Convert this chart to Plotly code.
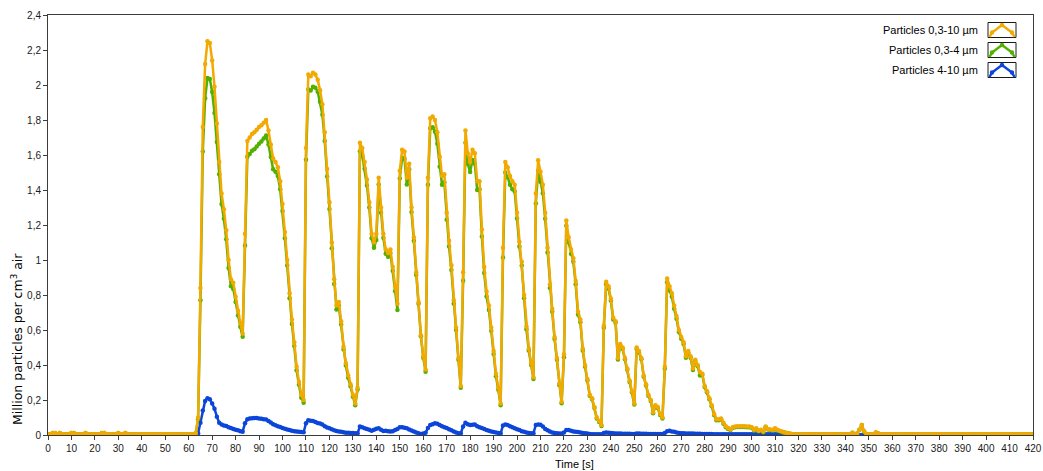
import plotly.graph_objects as go

# ---------------- data (1 s sampling) ----------------
time_s = list(range(0, 421))

particles_03_10 = [
    0.005, 0.005, 0.012, 0.012, 0.005, 0.012, 0.005, 0.005, 0.005, 0.005,
    0.012, 0.012, 0.005, 0.005, 0.005, 0.005, 0.012, 0.005, 0.005, 0.005,
    0.005, 0.005, 0.005, 0.012, 0.012, 0.005, 0.005, 0.005, 0.005, 0.005,
    0.012, 0.005, 0.005, 0.012, 0.005, 0.005, 0.005, 0.005, 0.005, 0.005,
    0.005, 0.005, 0.005, 0.005, 0.005, 0.005, 0.005, 0.005, 0.005, 0.005,
    0.005, 0.005, 0.005, 0.005, 0.005, 0.005, 0.005, 0.005, 0.005, 0.005,
    0.005, 0.005, 0.005, 0.01, 0.10, 0.84, 1.76, 2.12, 2.25, 2.24,
    2.14, 1.99, 1.78, 1.56, 1.38, 1.29, 1.17, 1.00, 0.89, 0.87,
    0.79, 0.71, 0.64, 0.58, 1.15, 1.68, 1.70, 1.72, 1.73, 1.745,
    1.76, 1.77, 1.785, 1.80, 1.74, 1.66, 1.58, 1.56, 1.53, 1.45,
    1.32, 1.16, 1.00, 0.81, 0.66, 0.53, 0.39, 0.305, 0.23, 0.20,
    1.64, 2.06, 2.05, 2.07, 2.06, 2.03, 1.97, 1.89, 1.73, 1.52,
    1.33, 1.10, 0.89, 0.74, 0.76, 0.65, 0.505, 0.41, 0.34, 0.29,
    0.23, 0.18, 0.27, 1.67, 1.64, 1.56, 1.46, 1.33, 1.15, 1.10,
    1.15, 1.47, 1.30, 1.15, 1.06, 1.04, 1.06, 0.96, 0.85, 0.75,
    1.51, 1.63, 1.62, 1.47, 1.55, 1.30, 1.13, 0.93, 0.76, 0.57,
    0.45, 0.375, 1.47, 1.81, 1.82, 1.80, 1.73, 1.59, 1.48, 1.49,
    1.27, 1.11, 0.97, 0.77, 0.615, 0.44, 0.28, 0.93, 1.74, 1.61,
    1.56, 1.63, 1.61, 1.45, 1.45, 1.175, 0.96, 0.82, 0.74, 0.615,
    0.48, 0.35, 0.27, 0.18, 1.07, 1.56, 1.53, 1.48, 1.45, 1.43,
    1.27, 1.105, 0.99, 0.80, 0.62, 0.495, 0.41, 0.33, 1.38, 1.57,
    1.505, 1.43, 1.27, 1.07, 0.86, 0.72, 0.56, 0.44, 0.295, 0.19,
    0.46, 1.225, 1.13, 1.06, 1.01, 0.88, 0.705, 0.66, 0.495, 0.40,
    0.32, 0.23, 0.21, 0.16, 0.10, 0.08, 0.057, 0.625, 0.876, 0.85,
    0.78, 0.67, 0.65, 0.44, 0.52, 0.50, 0.44, 0.38, 0.31, 0.25,
    0.18, 0.50, 0.48, 0.44, 0.34, 0.29, 0.23, 0.20, 0.13, 0.17,
    0.16, 0.12, 0.10, 0.39, 0.895, 0.85, 0.81, 0.74, 0.68, 0.60,
    0.56, 0.53, 0.45, 0.48, 0.45, 0.38, 0.43, 0.40, 0.36, 0.35,
    0.28, 0.25, 0.21, 0.17, 0.12, 0.09, 0.09, 0.095, 0.07, 0.05,
    0.04, 0.032, 0.045, 0.048, 0.05, 0.05, 0.05, 0.05, 0.048, 0.048,
    0.045, 0.03, 0.038, 0.025, 0.03, 0.02, 0.048, 0.035, 0.032, 0.03,
    0.038, 0.03, 0.025, 0.02, 0.015, 0.012, 0.008, 0.006, 0.005, 0.005,
    0.005, 0.005, 0.005, 0.005, 0.005, 0.005, 0.005, 0.005, 0.005, 0.005,
    0.005, 0.005, 0.005, 0.005, 0.005, 0.005, 0.005, 0.005, 0.005, 0.005,
    0.005, 0.005, 0.005, 0.013, 0.005, 0.008, 0.03, 0.057, 0.02, 0.005,
    0.005, 0.005, 0.005, 0.015, 0.008, 0.005, 0.005, 0.005, 0.005, 0.005,
    0.005, 0.005, 0.005, 0.005, 0.005, 0.005, 0.005, 0.005, 0.005, 0.005,
    0.005, 0.005, 0.005, 0.005, 0.005, 0.005, 0.005, 0.005, 0.005, 0.005,
    0.005, 0.005, 0.005, 0.005, 0.005, 0.005, 0.005, 0.005, 0.005, 0.005,
    0.005, 0.005, 0.005, 0.005, 0.005, 0.005, 0.005, 0.005, 0.005, 0.005,
    0.005, 0.005, 0.005, 0.005, 0.005, 0.005, 0.005, 0.005, 0.005, 0.005,
    0.005, 0.005, 0.005, 0.005, 0.005, 0.005, 0.005, 0.005, 0.005, 0.005,
    0.005,
]

particles_03_4 = [
    0.005, 0.005, 0.012, 0.012, 0.005, 0.012, 0.005, 0.005, 0.005, 0.005,
    0.012, 0.012, 0.005, 0.005, 0.005, 0.005, 0.012, 0.005, 0.005, 0.005,
    0.005, 0.005, 0.005, 0.012, 0.012, 0.005, 0.005, 0.005, 0.005, 0.005,
    0.012, 0.005, 0.005, 0.012, 0.005, 0.005, 0.005, 0.005, 0.005, 0.005,
    0.005, 0.005, 0.005, 0.005, 0.005, 0.005, 0.005, 0.005, 0.005, 0.005,
    0.005, 0.005, 0.005, 0.005, 0.005, 0.005, 0.005, 0.005, 0.005, 0.005,
    0.005, 0.005, 0.005, 0.01, 0.09, 0.77, 1.62, 1.925, 2.04, 2.035,
    1.96, 1.84, 1.675, 1.49, 1.32, 1.235, 1.118, 0.955, 0.85, 0.835,
    0.76, 0.683, 0.618, 0.561, 1.083, 1.59, 1.606, 1.624, 1.633, 1.648,
    1.665, 1.677, 1.695, 1.712, 1.66, 1.588, 1.518, 1.504, 1.48, 1.404,
    1.28, 1.124, 0.968, 0.781, 0.635, 0.509, 0.37, 0.287, 0.213, 0.184,
    1.573, 1.975, 1.968, 1.99, 1.985, 1.962, 1.904, 1.83, 1.68, 1.477,
    1.292, 1.067, 0.863, 0.717, 0.74, 0.632, 0.489, 0.397, 0.327, 0.278,
    0.219, 0.17, 0.26, 1.622, 1.595, 1.522, 1.426, 1.30, 1.125, 1.07,
    1.114, 1.432, 1.27, 1.127, 1.036, 1.018, 1.04, 0.938, 0.822, 0.715,
    1.466, 1.585, 1.578, 1.432, 1.518, 1.274, 1.11, 0.915, 0.75, 0.564,
    0.442, 0.362, 1.43, 1.753, 1.758, 1.733, 1.665, 1.533, 1.43, 1.445,
    1.23, 1.077, 0.943, 0.75, 0.60, 0.43, 0.27, 0.882, 1.67, 1.548,
    1.503, 1.572, 1.55, 1.40, 1.405, 1.135, 0.926, 0.791, 0.715, 0.595,
    0.463, 0.336, 0.258, 0.17, 1.015, 1.50, 1.473, 1.43, 1.405, 1.392,
    1.237, 1.077, 0.968, 0.782, 0.605, 0.483, 0.40, 0.32, 1.323, 1.51,
    1.447, 1.382, 1.235, 1.043, 0.84, 0.705, 0.549, 0.43, 0.286, 0.182,
    0.445, 1.196, 1.102, 1.035, 0.99, 0.862, 0.688, 0.645, 0.483, 0.39,
    0.312, 0.224, 0.205, 0.155, 0.095, 0.075, 0.052, 0.613, 0.862, 0.837,
    0.768, 0.66, 0.642, 0.432, 0.512, 0.493, 0.433, 0.373, 0.303, 0.244,
    0.174, 0.492, 0.472, 0.433, 0.333, 0.283, 0.224, 0.194, 0.124, 0.164,
    0.154, 0.114, 0.094, 0.378, 0.873, 0.826, 0.79, 0.722, 0.665, 0.588,
    0.55, 0.52, 0.442, 0.472, 0.442, 0.372, 0.423, 0.393, 0.34, 0.344,
    0.274, 0.244, 0.204, 0.164, 0.115, 0.085, 0.085, 0.09, 0.065, 0.045,
    0.035, 0.028, 0.041, 0.044, 0.046, 0.046, 0.046, 0.046, 0.044, 0.044,
    0.041, 0.026, 0.034, 0.021, 0.026, 0.016, 0.044, 0.031, 0.028, 0.026,
    0.034, 0.026, 0.021, 0.016, 0.015, 0.012, 0.008, 0.006, 0.005, 0.005,
    0.005, 0.005, 0.005, 0.005, 0.005, 0.005, 0.005, 0.005, 0.005, 0.005,
    0.005, 0.005, 0.005, 0.005, 0.005, 0.005, 0.005, 0.005, 0.005, 0.005,
    0.005, 0.005, 0.005, 0.013, 0.005, 0.008, 0.03, 0.057, 0.02, 0.005,
    0.005, 0.005, 0.005, 0.015, 0.008, 0.005, 0.005, 0.005, 0.005, 0.005,
    0.005, 0.005, 0.005, 0.005, 0.005, 0.005, 0.005, 0.005, 0.005, 0.005,
    0.005, 0.005, 0.005, 0.005, 0.005, 0.005, 0.005, 0.005, 0.005, 0.005,
    0.005, 0.005, 0.005, 0.005, 0.005, 0.005, 0.005, 0.005, 0.005, 0.005,
    0.005, 0.005, 0.005, 0.005, 0.005, 0.005, 0.005, 0.005, 0.005, 0.005,
    0.005, 0.005, 0.005, 0.005, 0.005, 0.005, 0.005, 0.005, 0.005, 0.005,
    0.005, 0.005, 0.005, 0.005, 0.005, 0.005, 0.005, 0.005, 0.005, 0.005,
    0.005,
]

particles_4_10 = [
    0, 0, 0, 0, 0, 0, 0, 0, 0, 0,
    0, 0, 0, 0, 0, 0, 0, 0, 0, 0,
    0, 0, 0, 0, 0, 0, 0, 0, 0, 0,
    0, 0, 0, 0, 0, 0, 0, 0, 0, 0,
    0, 0, 0, 0, 0, 0, 0, 0, 0, 0,
    0, 0, 0, 0, 0, 0, 0, 0, 0, 0,
    0, 0, 0, 0, 0.01, 0.07, 0.14, 0.195, 0.21, 0.205,
    0.18, 0.15, 0.105, 0.07, 0.06, 0.055, 0.052, 0.045, 0.04, 0.035,
    0.03, 0.027, 0.022, 0.019, 0.067, 0.09, 0.094, 0.096, 0.097, 0.097,
    0.095, 0.093, 0.09, 0.088, 0.08, 0.072, 0.062, 0.056, 0.05, 0.046,
    0.04, 0.036, 0.032, 0.029, 0.025, 0.021, 0.02, 0.018, 0.017, 0.016,
    0.067, 0.085, 0.082, 0.08, 0.075, 0.068, 0.066, 0.06, 0.05, 0.043,
    0.038, 0.033, 0.027, 0.023, 0.02, 0.018, 0.016, 0.013, 0.013, 0.012,
    0.011, 0.01, 0.01, 0.048, 0.045, 0.038, 0.034, 0.03, 0.025, 0.03,
    0.036, 0.038, 0.03, 0.023, 0.024, 0.022, 0.02, 0.022, 0.028, 0.035,
    0.044, 0.045, 0.042, 0.038, 0.032, 0.026, 0.02, 0.015, 0.01, 0.006,
    0.008, 0.013, 0.04, 0.057, 0.062, 0.067, 0.065, 0.057, 0.05, 0.045,
    0.04, 0.033, 0.027, 0.02, 0.015, 0.01, 0.01, 0.048, 0.07, 0.062,
    0.057, 0.058, 0.06, 0.05, 0.045, 0.04, 0.034, 0.029, 0.025, 0.02,
    0.017, 0.014, 0.012, 0.01, 0.055, 0.06, 0.057, 0.05, 0.045, 0.038,
    0.033, 0.028, 0.022, 0.018, 0.015, 0.012, 0.01, 0.01, 0.057, 0.06,
    0.058, 0.048, 0.035, 0.027, 0.02, 0.015, 0.011, 0.01, 0.009, 0.008,
    0.015, 0.029, 0.028, 0.025, 0.02, 0.018, 0.017, 0.015, 0.012, 0.01,
    0.008, 0.006, 0.005, 0.005, 0.005, 0.005, 0.005, 0.012, 0.014, 0.013,
    0.012, 0.01, 0.008, 0.008, 0.008, 0.007, 0.007, 0.007, 0.007, 0.006,
    0.006, 0.008, 0.008, 0.007, 0.007, 0.007, 0.006, 0.006, 0.006, 0.006,
    0.006, 0.006, 0.006, 0.012, 0.022, 0.024, 0.02, 0.018, 0.015, 0.012,
    0.01, 0.01, 0.008, 0.008, 0.008, 0.008, 0.007, 0.007, 0.007, 0.006,
    0.006, 0.006, 0.006, 0.006, 0.005, 0.005, 0.005, 0.005, 0.005, 0.005,
    0.005, 0.004, 0.004, 0.004, 0.004, 0.004, 0.004, 0.004, 0.004, 0.004,
    0.004, 0.004, 0.004, 0.004, 0.004, 0.004, 0.004, 0.004, 0.004, 0.004,
    0.004, 0.004, 0.004, 0.004, 0, 0, 0, 0, 0, 0,
    0, 0, 0, 0, 0, 0, 0, 0, 0, 0,
    0, 0, 0, 0, 0, 0, 0, 0, 0, 0,
    0, 0, 0, 0, 0, 0, 0, 0, 0, 0,
    0, 0, 0, 0, 0, 0, 0, 0, 0, 0,
    0, 0, 0, 0, 0, 0, 0, 0, 0, 0,
    0, 0, 0, 0, 0, 0, 0, 0, 0, 0,
    0, 0, 0, 0, 0, 0, 0, 0, 0, 0,
    0, 0, 0, 0, 0, 0, 0, 0, 0, 0,
    0, 0, 0, 0, 0, 0, 0, 0, 0, 0,
    0, 0, 0, 0, 0, 0, 0, 0, 0, 0,
    0,
]

series_names = ["Particles 0,3-10 µm", "Particles 0,3-4 µm", "Particles 4-10 µm"]
series_colors = ["#F2A900", "#52B000", "#0B45DA"]

x_tick_vals = list(range(0, 421, 10))
y_tick_vals = [0, 0.2, 0.4, 0.6, 0.8, 1, 1.2, 1.4, 1.6, 1.8, 2, 2.2, 2.4]
y_tick_text = ["0", "0,2", "0,4", "0,6", "0,8", "1", "1,2", "1,4", "1,6", "1,8", "2", "2,2", "2,4"]

# ---------------- layout geometry ----------------
W, H = 1043, 471
ML, MR, MT, MB = 48, 10, 15, 36
PW, PH = W - ML - MR, H - MT - MB


def pxx(xp):
    return (xp - ML) / PW


def pxy(yp):
    return (H - MB - yp) / PH


FONT = "Liberation Sans, Arial, sans-serif"
FONT_WIDE = "DejaVu Sans, Verdana, sans-serif"

fig = go.Figure()
series_values = [particles_03_10, particles_03_4, particles_4_10]
# draw order: blue, green, orange (orange on top)
for idx in [2, 1, 0]:
    fig.add_trace(go.Scatter(
        x=time_s, y=series_values[idx], mode="lines+markers",
        name=series_names[idx],
        line=dict(color=series_colors[idx], width=2.5),
        marker=dict(color=series_colors[idx], size=4.5),
        showlegend=False, cliponaxis=True,
    ))

shapes = []
annotations = []
row_centers = [30, 50, 70]
for i, cy in enumerate(row_centers):
    col = series_colors[i]
    annotations.append(dict(
        xref="paper", yref="paper", x=pxx(980), y=pxy(cy),
        xanchor="right", yanchor="middle", showarrow=False,
        text=series_names[i], font=dict(family=FONT, size=11, color="#000000"),
    ))
    shapes.append(dict(
        type="rect", xref="paper", yref="paper",
        x0=pxx(988), x1=pxx(1016), y0=pxy(cy + 7.5), y1=pxy(cy - 7.5),
        line=dict(color="#1a1a1a", width=1), fillcolor="white",
    ))
    pts = [(989.5, cy + 7), (992, cy + 2.5), (1002, cy - 5), (1012, cy + 2.5), (1014.5, cy + 7)]
    path = "M " + " L ".join(f"{pxx(a):.5f},{pxy(b):.5f}" for a, b in pts)
    shapes.append(dict(type="path", xref="paper", yref="paper", path=path,
                       line=dict(color=col, width=2.5)))
    for a, b in pts[1:4]:
        r = 2.2
        shapes.append(dict(type="circle", xref="paper", yref="paper",
                           x0=pxx(a - r), x1=pxx(a + r), y0=pxy(b + r), y1=pxy(b - r),
                           line=dict(color=col, width=0), fillcolor=col))

annotations.append(dict(
    xref="paper", yref="paper", x=pxx(574), y=pxy(464),
    xanchor="center", yanchor="middle", showarrow=False,
    text="Time [s]", font=dict(family=FONT, size=11, color="#000000"),
))
annotations.append(dict(
    xref="paper", yref="paper", x=pxx(17), y=pxy(339),
    xanchor="center", yanchor="middle", showarrow=False, textangle=-90,
    text="Million particles per cm<sup>3</sup> air",
    font=dict(family=FONT_WIDE, size=12.5, color="#000000"),
))

axis_common = dict(
    showline=True, mirror=True, linecolor="#3c3c3c", linewidth=1,
    showgrid=False, zeroline=False, ticks="outside", ticklen=4,
    tickcolor="#3c3c3c", tickwidth=1,
    tickfont=dict(family=FONT, size=10, color="#1a1a1a"),
)

fig.update_layout(
    width=W, height=H, autosize=False,
    margin=dict(l=ML, r=MR, t=MT, b=MB, pad=0, autoexpand=False),
    paper_bgcolor="white", plot_bgcolor="white",
    xaxis=dict(range=[0, 420], tickmode="array", tickvals=x_tick_vals,
               ticktext=[str(v) for v in x_tick_vals], automargin=False, **axis_common),
    yaxis=dict(range=[0, 2.4], tickmode="array", tickvals=y_tick_vals,
               ticktext=y_tick_text, automargin=False, **axis_common),
    shapes=shapes, annotations=annotations, showlegend=False,
)

fig.write_html("out.html", config={"responsive": False, "displayModeBar": False})

# make the page tight to the window (no body margin / scrollbars)
with open("out.html", "r", encoding="utf-8") as fh:
    html = fh.read()
html = html.replace("<head>", "<head><style>html,body{margin:0;padding:0;overflow:hidden;}</style>", 1)
with open("out.html", "w", encoding="utf-8") as fh:
    fh.write(html)
